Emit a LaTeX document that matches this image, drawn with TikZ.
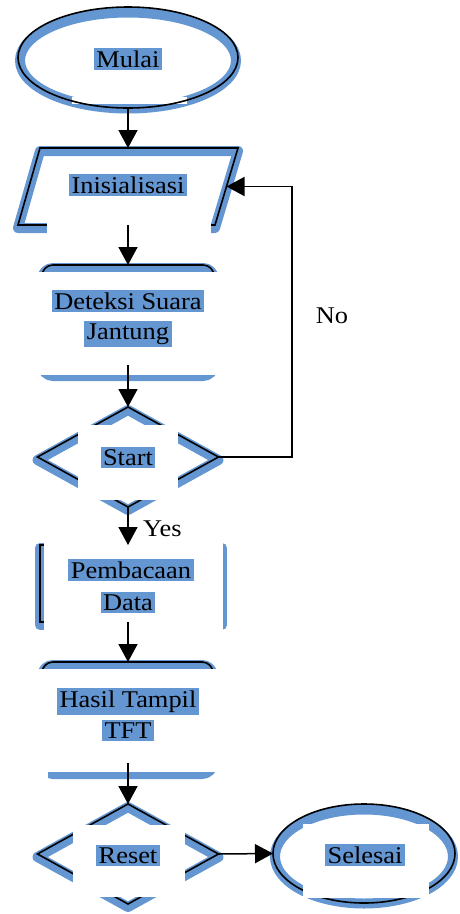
\documentclass[tikz,border=0pt]{standalone}
\usepackage{fontspec}
\setmainfont{Liberation Serif}[FakeStretch=1.1]
\usetikzlibrary{shapes.geometric,arrows.meta,calc}
\definecolor{hb}{RGB}{100,150,210}
\begin{document}
\begin{tikzpicture}[x=1pt,y=-1pt,
  shd/.style={draw=hb,line width=10pt,line join=round},
  outl/.style={draw=black,line width=1.6pt},
  patch/.style={fill=white,draw=none},
  anch/.style={rectangle,inner sep=0pt,outer sep=0pt,draw=none},
  ell/.style={ellipse,inner sep=0pt,outer sep=0pt},
  dia/.style={diamond,inner sep=0pt,outer sep=0pt},
  rbox/.style={rectangle,rounded corners=11pt,inner sep=0pt,outer sep=0pt},
  lbl/.style={fill=hb,inner sep=2.5pt,anchor=base,text=black,font=\fontsize{24}{28}\selectfont},
  plain/.style={inner sep=0pt,anchor=base,text=black,font=\fontsize{24}{28}\selectfont},
  conn/.style={line width=1.5pt,-{Triangle[length=18pt,width=19pt]}}]
\useasboundingbox (0,0) rectangle (459,914);

% ---------- blue shadow bands ----------
\node[ell,shd,minimum width=216pt,minimum height=96pt] (mulaiS) at (128,60.5) {};
\draw[shd] (40,151) -- (238,151) -- (215,228) -- (18,228) -- cycle;
\node[rbox,shd,minimum width=172pt,minimum height=108pt] (detS) at (128,322) {};
\node[dia,shd,minimum width=181pt,minimum height=100pt] (startS) at (128,460) {};
\node[anch,shd,minimum width=182pt,minimum height=77pt] (pemS) at (131,586.5) {};
\node[rbox,shd,minimum width=171pt,minimum height=109pt] (hasilS) at (127.5,719.5) {};
\node[dia,shd,minimum width=181pt,minimum height=100pt] (resetS) at (128,857) {};
\node[ell,shd,minimum width=178pt,minimum height=94pt] (selesaiS) at (364,856.5) {};

% patch below the Mulai outline
\fill[patch] (72,97) rectangle (187,104);

% ---------- black outlines ----------
\node[ell,outl,minimum width=220pt,minimum height=101pt] (mulai) at (128,57.5) {};
\node[anch,minimum width=197pt,minimum height=77pt] (init) at (128,186.5) {};
\draw[outl,line join=miter] (40,148) -- (238,148) -- (215,225) -- (18,225) -- cycle;
\node[rbox,outl,minimum width=172pt,minimum height=108pt] (det) at (128,319) {};
\node[dia,outl,minimum width=181pt,minimum height=100pt] (start) at (128,457) {};
\node[anch,outl,minimum width=182pt,minimum height=77pt] (pem) at (131,583.5) {};
\node[rbox,outl,minimum width=171pt,minimum height=109pt] (hasil) at (127.5,716.5) {};
\node[dia,outl,minimum width=181pt,minimum height=100pt] (reset) at (128,854) {};
\node[ell,outl,minimum width=182pt,minimum height=99pt] (selesai) at (364,853.5) {};

% ---------- white patches ----------
\fill[patch] (47,157) rectangle (211,234);
\fill[patch] (30,272) rectangle (228,374.5);
\fill[patch] (78,425) rectangle (178,500);
\fill[patch] (44,538) rectangle (222.5,634);
\fill[patch] (35,669) rectangle (228,772);
\fill[patch] (30,772) rectangle (48,780);
\fill[patch] (73,825) rectangle (185,897);
\fill[patch] (303,824) rectangle (429,898);

% ---------- connectors ----------
\draw[conn] (mulai.south) -- (init.north);
\draw[conn] (init.south) -- (det.north);
\draw[conn] (128,365) -- (start.north);
\draw[conn] (start.south) -- (start.south |- pem.north);
\draw[conn] (128,622) -- (hasil.north -| start.south);
\draw[conn] (128,763) -- (reset.north);
\draw[conn] (reset.east) -- (selesai.west);
\coordinate (loop) at (292,0);
\draw[conn,line join=miter] (start.east) -- (start.east -| loop) -- (init.east -| loop) -- (init.east);

% ---------- texts ----------
\node[lbl] (tmulai) at (128,67) {Mulai};
\node[lbl] (tinit) at (128,193) {Inisialisasi};
\node[lbl] (tdet1) at (128,309) {Deteksi Suara};
\node[lbl] (tdet2) at (128,339) {Jantung};
\node[lbl] (tstart) at (128,465) {Start};
\node[lbl] (tpem1) at (131,578) {Pembacaan};
\node[lbl] (tpem2) at (128,610) {Data};
\node[lbl] (thasil1) at (128,707) {Hasil Tampil};
\node[lbl] (thasil2) at (128,738) {TFT};
\node[lbl] (treset) at (128,863) {Reset};
\node[lbl] (tselesai) at (365,863) {Selesai};
\node[plain] (tno) at (332,323) {No};
\node[plain,anchor=base west] (tyes) at (143,536) {Yes};
\end{tikzpicture}
\end{document}
